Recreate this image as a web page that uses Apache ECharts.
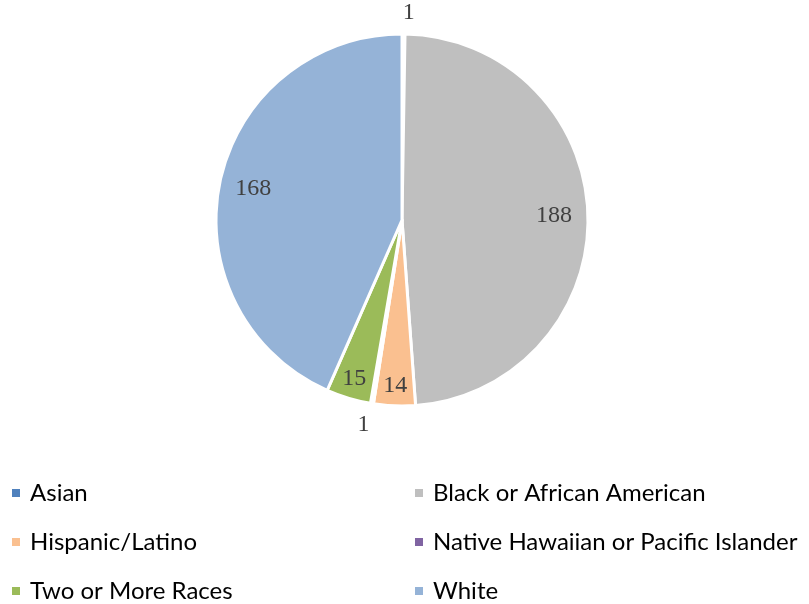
<!DOCTYPE html>
<html>
<head>
<meta charset="utf-8">
<script src="https://cdn.jsdelivr.net/npm/echarts@6/dist/echarts.min.js"></script>
<style>html,body{margin:0;padding:0;background:#fff}#c{width:809px;height:604px}</style>
</head>
<body>
<div id="c"></div>
<script>
const categories = ['Asian', 'Black or African American', 'Hispanic/Latino', 'Native Hawaiian or Pacific Islander', 'Two or More Races', 'White'];
const values = [1, 188, 14, 1, 15, 168];
const colors = ['#4F81BD', '#BFBFBF', '#FAC090', '#8064A2', '#9BBB59', '#95B3D7'];
const labelRing = ['outer', 'mid', 'rim', 'outer', 'rim', 'mid'];
const legendLeft = ['Asian', 'Hispanic/Latino', 'Two or More Races'];
const legendRight = ['Black or African American', 'Native Hawaiian or Pacific Islander', 'White'];

const chart = echarts.init(document.getElementById('c'), null, {renderer: 'canvas'});
const center = [402, 220];
const R = 186;
const labelFont = {fontFamily: 'Liberation Serif', fontSize: 24, color: '#404040'};

function overlay(ring, radius, position) {
  return {
    type: 'pie', center: center, radius: radius, startAngle: 90, clockwise: true,
    silent: true, animation: false, avoidLabelOverlap: false,
    itemStyle: {color: 'rgba(0,0,0,0)', borderWidth: 0},
    labelLine: {show: false, length: 21, length2: 0},
    labelLayout: position === 'outside' ? {align: 'center'} : undefined,
    emphasis: {disabled: true},
    data: categories.map((n, i) => ({
      name: n, value: values[i],
      label: Object.assign({show: labelRing[i] === ring, position: position, formatter: '{c}'}, labelFont)
    }))
  };
}

const legendText = {fontFamily: 'Lato', fontSize: 24, color: '#000', lineHeight: 22, padding: [0, 0, 0, 4]};

chart.setOption({
  animation: false,
  color: colors,
  legend: [
    {data: legendLeft, orient: 'vertical', left: 5, top: 476, height: 140, itemWidth: 10, itemHeight: 10, itemGap: 25, icon: 'rect',
     selectedMode: false, textStyle: legendText},
    {data: legendRight, orient: 'vertical', left: 408, top: 476, height: 140, itemWidth: 10, itemHeight: 10, itemGap: 25, icon: 'rect',
     selectedMode: false, textStyle: legendText}
  ],
  series: [
    {
      type: 'pie', center: center, radius: R, startAngle: 90, clockwise: true,
      itemStyle: {borderColor: '#fff', borderWidth: 3},
      label: {show: false}, labelLine: {show: false},
      data: categories.map((n, i) => ({name: n, value: values[i], itemStyle: {color: colors[i]}}))
    },
    overlay('mid', [112, R], 'inside'),
    overlay('rim', [140, R], 'inside'),
    overlay('outer', R, 'outside')
  ]
});
</script>
</body>
</html>
